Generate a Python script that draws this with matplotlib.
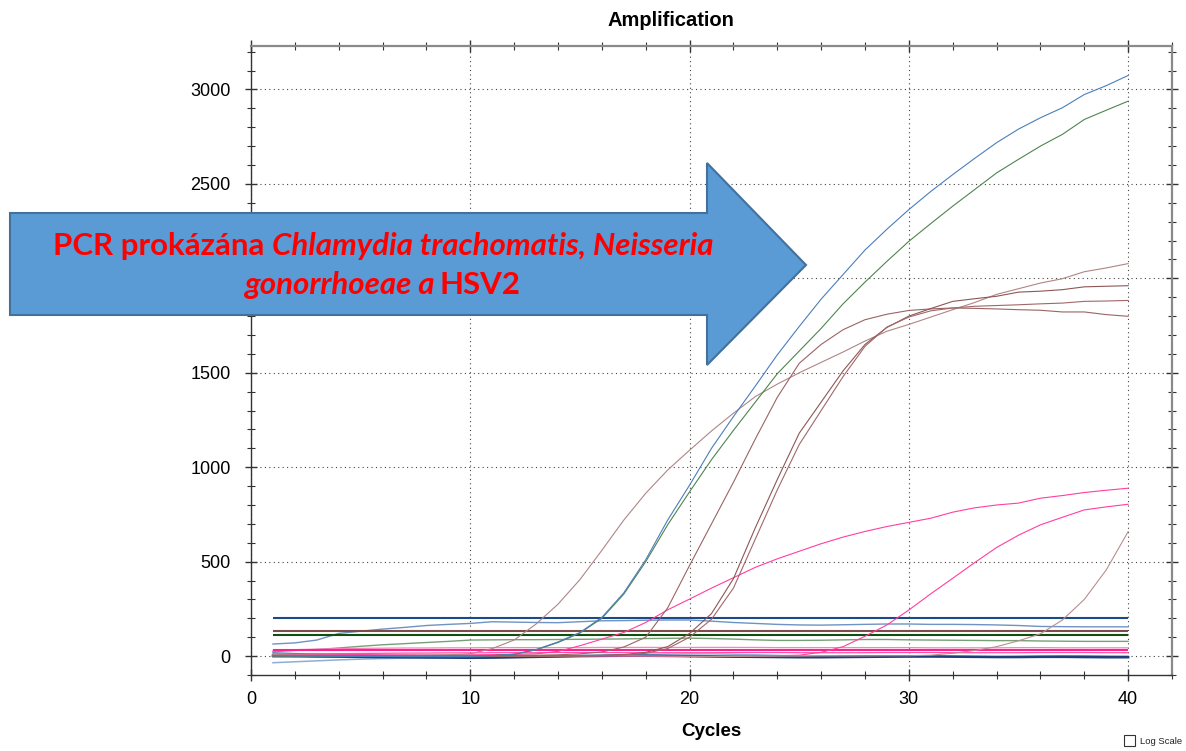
import matplotlib
matplotlib.use("Agg")
import matplotlib.pyplot as plt
from matplotlib.ticker import MultipleLocator
from matplotlib.patches import Polygon, Rectangle

W, H = 1186, 751

cycles = list(range(1, 41))

# amplification curves (RFU per cycle)
amp_blue = [2, 1, 0, -1, -2, -2, -3, -3, -2, -1, 2, 10, 35, 75, 125, 205, 335, 510, 720, 905,
            1100, 1268, 1430, 1595, 1745, 1890, 2020, 2150, 2260, 2364, 2460, 2549, 2635, 2718, 2790, 2850, 2903, 2973, 3020, 3074]
amp_green = [-5, -4, -3, -3, -2, -2, -1, -1, 0, 0, 3, 10, 33, 72, 122, 200, 328, 500, 695, 870,
             1040, 1195, 1345, 1495, 1615, 1735, 1865, 1980, 2090, 2196, 2290, 2382, 2470, 2558, 2630, 2700, 2762, 2841, 2890, 2938]
brown_early = [8, 6, 5, 4, 3, 3, 4, 5, 7, 12, 40, 85, 170, 275, 405, 560, 720, 862, 985, 1090,
               1192, 1286, 1374, 1440, 1500, 1555, 1610, 1668, 1720, 1756, 1795, 1834, 1872, 1915, 1945, 1975, 1998, 2035, 2055, 2078]
brown_a = [3, 2, 1, 0, 0, -1, -1, 0, 1, 2, 3, 4, 5, 7, 12, 22, 48, 100, 255, 480,
           700, 920, 1150, 1370, 1550, 1650, 1728, 1781, 1810, 1830, 1838, 1843, 1841, 1838, 1834, 1831, 1822, 1822, 1808, 1799]
brown_b = [-2, -1, 0, 1, 2, 2, 1, 0, -1, -2, -2, -1, 0, 1, 2, 4, 8, 20, 50, 120,
           225, 410, 680, 935, 1180, 1345, 1510, 1650, 1740, 1800, 1840, 1878, 1892, 1905, 1927, 1932, 1940, 1955, 1958, 1961]
brown_c = [1, 0, -1, -1, 0, 1, 2, 2, 1, 0, -1, -2, -1, 0, 1, 3, 6, 15, 40, 100,
           195, 360, 620, 880, 1120, 1300, 1480, 1640, 1742, 1795, 1828, 1843, 1852, 1856, 1860, 1865, 1869, 1878, 1880, 1883]
brown_late = [4, 3, 2, 1, 0, -1, -2, -2, -3, -3, -2, -1, 0, 1, 1, 2, 2, 1, 0, -1,
              -2, -2, -1, 0, 0, 1, 1, 1, 2, 2, 5, 15, 30, 50, 81, 118, 191, 300, 456, 659]
pink_early = [12, 10, 9, 8, 8, 7, 7, 6, 6, 7, 8, 9, 12, 25, 55, 90, 125, 178, 245, 302,
              360, 415, 470, 515, 555, 595, 630, 660, 686, 708, 730, 762, 785, 800, 810, 836, 850, 866, 878, 889]
pink_late = [5, 4, 3, 2, 2, 1, 1, 0, 0, -1, -1, 0, 0, 1, 1, 1, 0, 0, -1, -1,
             0, 1, 1, 2, 5, 20, 50, 105, 165, 244, 330, 412, 495, 575, 640, 695, 735, 774, 790, 804]

# baseline (negative) traces
blue_drift = [64, 70, 85, 120, 132, 143, 152, 162, 168, 173, 182, 180, 178, 177, 182, 187, 188, 190, 191, 191,
              185, 178, 173, 168, 165, 164, 166, 168, 170, 170, 168, 168, 167, 165, 162, 157, 156, 155, 155, 155]
green_drift = [23, 30, 35, 43, 52, 60, 66, 72, 78, 85, 86, 87, 87, 88, 89, 90, 91, 93, 94, 95,
               93, 90, 86, 83, 83, 84, 86, 88, 88, 86, 85, 84, 83, 82, 82, 80, 79, 78, 78, 78]
pink_base1 = [30, 34, 37, 40, 41, 42, 43, 43, 44, 44, 45, 45, 45, 45, 45, 46, 46, 46, 46, 46,
              46, 46, 46, 45, 45, 45, 45, 45, 45, 45, 44, 44, 44, 44, 45, 45, 44, 44, 44, 44]
pink_base2 = [8, 10, 12, 13, 14, 15, 16, 16, 17, 17, 18, 18, 18, 19, 19, 19, 18, 18, 18, 18,
              18, 19, 19, 19, 18, 18, 18, 18, 19, 19, 19, 18, 18, 18, 18, 19, 19, 19, 18, 18]
navy_base = [2, 0, -2, -3, -4, -5, -6, -7, -8, -9, -8, -6, -4, -2, 0, 1, 2, 2, 1, 0,
             -1, -3, -4, -5, -6, -6, -5, -4, -3, -2, -2, -3, -4, -5, -5, -4, -4, -5, -6, -6]
lightblue_low = [-35, -30, -25, -20, -16, -13, -11, -10, -9, -9, -8, -7, -5, -3, 0, 3, 6, 9, 11, 12,
                 12, 10, 7, 4, 1, -2, -4, -5, -5, -4, -3, -2, -2, -3, -4, -4, -3, -2, -2, -2]
steel_low = [18, 14, 10, 8, 6, 4, 2, 0, -2, -3, -2, 0, 2, 3, 4, 4, 3, 2, 0, -2,
             -4, -5, -5, -4, -2, 0, 1, 2, 2, 1, 0, -1, -2, -2, -1, 0, 1, 1, 0, -1]

# channel thresholds
thresholds = [201, 131, 113, 30]
threshold_colors = ["#1b4a8a", "#7d4b4b", "#0f4f0f", "#ff1f8e"]

fig = plt.figure(figsize=(W / 100, H / 100), dpi=100)
ax = fig.add_axes([251 / W, 1 - 675 / H, (1172 - 251) / W, (675 - 46) / H])

# baselines
ax.plot(cycles, blue_drift, color="#6f93c4", lw=1.0)
ax.plot(cycles, green_drift, color="#76a076", lw=1.0)
ax.plot(cycles, pink_base1, color="#ff7fbf", lw=0.9)
ax.plot(cycles, pink_base2, color="#ff4fa8", lw=0.9)
ax.plot(cycles, lightblue_low, color="#8fadd6", lw=1.1)
ax.plot(cycles, steel_low, color="#5a86c0", lw=0.9)
ax.plot(cycles, navy_base, color="#1f3f7a", lw=1.8)

for level, col in zip(thresholds, threshold_colors):
    ax.hlines(level, cycles[0], cycles[-1], color=col, lw=1.5, zorder=3)

# amplification curves
curve_lw = 0.8
ax.plot(cycles, pink_early, color="#ff3fa0", lw=curve_lw, zorder=4)
ax.plot(cycles, pink_late, color="#ff3fa0", lw=curve_lw, zorder=4)
ax.plot(cycles, brown_late, color="#b88f8f", lw=curve_lw, zorder=4)
ax.plot(cycles, brown_early, color="#b08585", lw=curve_lw, zorder=4)
ax.plot(cycles, brown_a, color="#9a6464", lw=curve_lw, zorder=4)
ax.plot(cycles, brown_b, color="#8e5656", lw=curve_lw, zorder=4)
ax.plot(cycles, brown_c, color="#a06868", lw=curve_lw, zorder=4)
ax.plot(cycles, amp_green, color="#4f844f", lw=curve_lw, zorder=4)
ax.plot(cycles, amp_blue, color="#4a7ebb", lw=curve_lw, zorder=4)

ax.set_xlim(0, 42)
ax.set_ylim(-100, 3230)
ax.xaxis.set_major_locator(MultipleLocator(10))
ax.xaxis.set_minor_locator(MultipleLocator(2))
ax.yaxis.set_major_locator(MultipleLocator(500))
ax.yaxis.set_minor_locator(MultipleLocator(100))
ax.grid(True, which="major", color="#444444", linestyle=(0, (1, 3)), lw=0.8)
ax.set_axisbelow(True)

ax.tick_params(which="major", direction="inout", length=9, width=1, top=True, right=True,
               labelsize=13, color="#333333", labelcolor="black", pad=7)
ax.tick_params(axis="y", which="major", pad=10)
ax.tick_params(which="minor", direction="inout", length=6, width=0.8, top=True, right=True,
               color="#333333")
for lab in ax.get_xticklabels() + ax.get_yticklabels():
    lab.set_fontfamily("Liberation Sans")

for side in ["left", "bottom"]:
    ax.spines[side].set_color("#333333")
    ax.spines[side].set_linewidth(1.0)
for side in ["top", "right"]:
    ax.spines[side].set_color("#8a8a8a")
    ax.spines[side].set_linewidth(1.6)

ax.set_xlabel("Cycles", fontsize=13.5, fontweight="bold", family="Liberation Sans", labelpad=11)
fig.text(671 / W, 1 - 20 / H, "Amplification", ha="center", va="center",
         fontsize=14.5, fontweight="bold", family="Liberation Sans")

# arrow call-out
arrow_px = [(10, 213), (707, 213), (707, 163), (806, 265), (707, 365), (707, 315), (10, 315)]
arrow = Polygon([(x / W, 1 - y / H) for x, y in arrow_px], closed=True,
                transform=fig.transFigure, facecolor="#5b9bd5", edgecolor="#41719c",
                lw=1.5, zorder=5)
fig.patches.append(arrow)

fam = ["Lato", "DejaVu Sans"]
line1 = [("PCR prokázána", "normal"), ("Chlamydia trachomatis, Neisseria", "italic")]
line2 = [("gonorrhoeae a", "italic"), ("HSV2", "normal")]


def place_line(parts, cx, base_y, size, gap):
    objs = [fig.text(0, 1 - base_y / H, s, fontsize=size, fontweight="bold", fontstyle=st,
                     color="#ff0000", va="baseline", ha="left", family=fam, zorder=6)
            for s, st in parts]
    r = fig.canvas.get_renderer()
    widths = [o.get_window_extent(r).width for o in objs]
    total = sum(widths) + gap * (len(objs) - 1)
    x = cx - total / 2
    for o, w in zip(objs, widths):
        o.set_x(x / W)
        x += w + gap
    return total


# fit font size to the reference line width
probe = fig.text(0, 0, line1[0][0] + " " + line1[1][0], fontsize=20, fontweight="bold",
                 fontstyle="italic", family=fam)
pw = probe.get_window_extent(fig.canvas.get_renderer()).width
probe.remove()
size = 20 * 650 / pw
place_line(line1, 383, 255, size, size * 0.24 * 100 / 72)
place_line(line2, 383, 294, size, size * 0.12 * 100 / 72)

# log scale checkbox
fig.patches.append(Rectangle((1124 / W, 1 - 746 / H), 11 / W, 11 / H, transform=fig.transFigure,
                             facecolor="white", edgecolor="#333333", lw=0.8))
fig.text(1140 / W, 1 - 741 / H, "Log Scale", fontsize=6.8, va="center", ha="left",
         family="Liberation Sans", color="#222222")

fig.savefig("out.png", dpi=100)
